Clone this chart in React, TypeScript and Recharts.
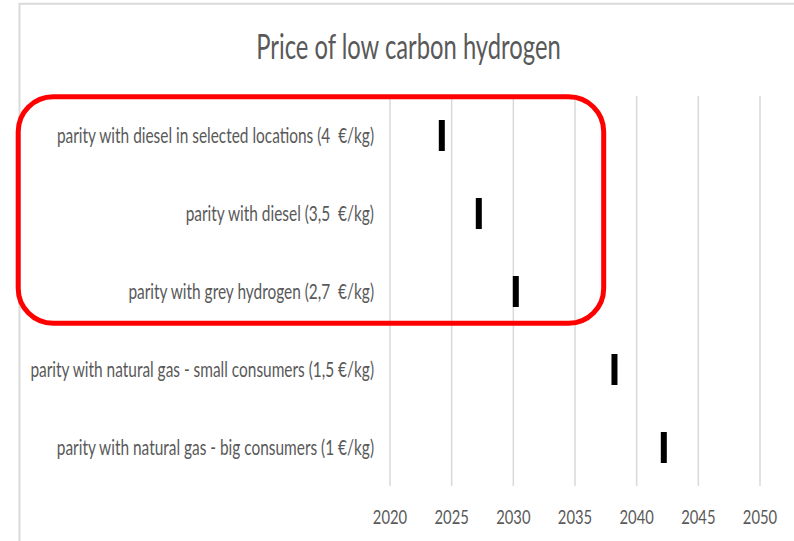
import { Bar, BarChart, CartesianGrid, XAxis, YAxis } from "recharts"

const CATEGORIES = [
    "parity with diesel in selected locations (4  €/kg)",
    "parity with diesel (3,5  €/kg)",
    "parity with grey hydrogen (2,7  €/kg)",
    "parity with natural gas - small consumers (1,5 €/kg)",
    "parity with natural gas - big consumers (1 €/kg)",
]
const PARITY_YEARS = [2024.2, 2027.2, 2030.2, 2038.2, 2042.2]
const YEAR_TICKS = [2020, 2025, 2030, 2035, 2040, 2045, 2050]

const TEXT_COLOR = "#595959"
const GRID_COLOR = "#d9d9d9"
const FONT = "Lato, 'Open Sans', sans-serif"

// the source image is squeezed horizontally, so text gets the same squeeze
const squeeze = (x: number, k: number) => `translate(${x},0) scale(${k},1) translate(${-x},0)`

const CategoryTick = ({ x, y, payload }: any) => (
    <text
        x={x}
        y={y}
        dy="0.36em"
        textAnchor="end"
        fontFamily={FONT}
        fontSize={21}
        fill={TEXT_COLOR}
        style={{ whiteSpace: "pre" }}
        transform={squeeze(x, 0.735)}
    >
        {payload.value}
    </text>
)

const YearTick = ({ x, y, payload }: any) => (
    <text x={x} y={y} dy="0.72em" textAnchor="middle" fontFamily={FONT} fontSize={20} fill={TEXT_COLOR} transform={squeeze(x, 0.74)}>
        {payload.value}
    </text>
)

// only the end of the bar is drawn: a small black marker at the parity year
const Marker = ({ x, y, width, height }: any) => (
    <rect x={x + width - 3} y={y + height / 2 - 15.5} width={6} height={31} fill="#000" />
)

const App = () => {
    const data = CATEGORIES.map((name, i) => ({ name, year: PARITY_YEARS[i] }))

    return (
        <div style={{ position: "absolute", left: 0, top: 0, width: 794, height: 541, background: "#fff" }}>
            <BarChart
                width={794}
                height={541}
                layout="vertical"
                data={data}
                margin={{ top: 96, right: 34, bottom: 0, left: 0 }}
            >
                <CartesianGrid horizontal={false} stroke={GRID_COLOR} strokeWidth={1.5} />
                <XAxis
                    type="number"
                    domain={[2020, 2050]}
                    ticks={YEAR_TICKS}
                    height={55}
                    axisLine={false}
                    tickLine={false}
                    tickSize={0}
                    tickMargin={24}
                    tick={<YearTick />}
                    interval={0}
                />
                <YAxis
                    type="category"
                    dataKey="name"
                    width={390}
                    axisLine={false}
                    tickLine={false}
                    tickSize={0}
                    tickMargin={16}
                    tick={<CategoryTick />}
                    interval={0}
                />
                <Bar dataKey="year" barSize={31} shape={<Marker />} isAnimationActive={false} />
            </BarChart>
            <svg width={794} height={541} style={{ position: "absolute", left: 0, top: 0, pointerEvents: "none" }}>
                <path d="M19.5 541 V3.7 H794" fill="none" stroke={GRID_COLOR} strokeWidth={2} />
                <text x={408.5} y={59} textAnchor="middle" fontFamily={FONT} fontSize={34} fill={TEXT_COLOR} transform={squeeze(408.5, 0.7)}>
                    Price of low carbon hydrogen
                </text>
                <rect x={18.2} y={96.8} width={585.5} height={226.5} rx={35} ry={35} fill="none" stroke="#ff0000" strokeWidth={5} />
            </svg>
        </div>
    )
}

export default App
